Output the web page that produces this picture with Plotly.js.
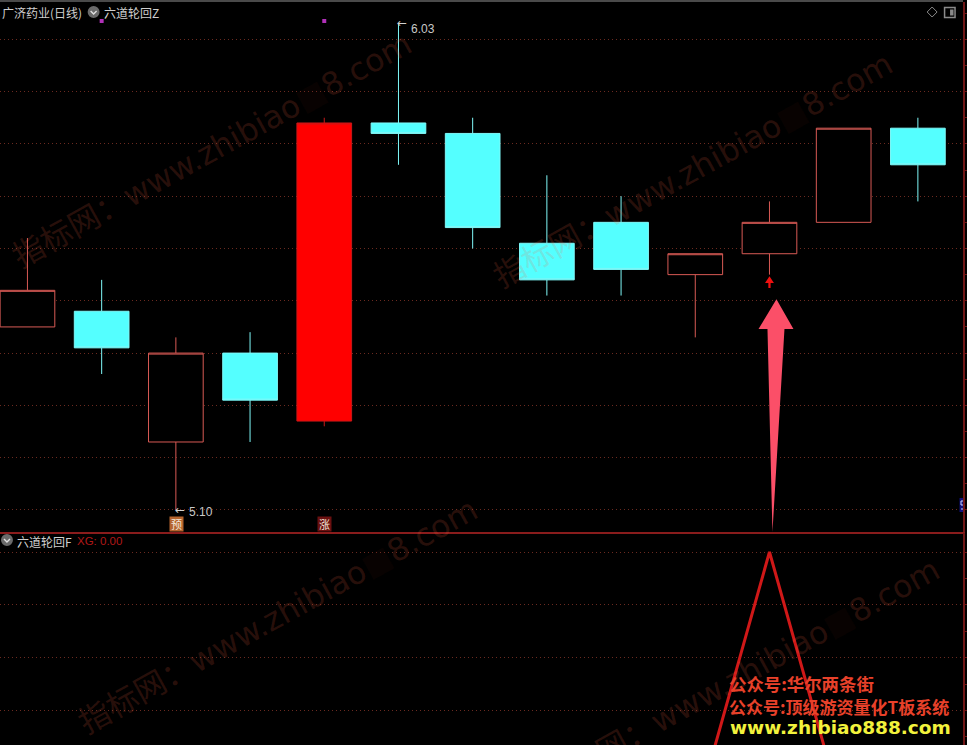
<!DOCTYPE html>
<html>
<head>
<meta charset="utf-8">
<script src="https://cdn.plot.ly/plotly-3.0.1.min.js"></script>
<style>html,body{margin:0;padding:0;background:#000;overflow:hidden}#chart{width:967px;height:745px}</style>
</head>
<body>
<div id="chart"></div>
<script>
// ---- candles (price) ----
const days   = [0,1,2,3,4,5,6,7,8,9,10,11,12];
const opens  = [5.45,5.48,5.23,5.40,5.27,5.84,5.82,5.61,5.65,5.55,5.59,5.65,5.83];
const highs  = [5.62,5.54,5.43,5.44,5.85,6.03,5.85,5.74,5.70,5.59,5.69,5.83,5.85];
const lows   = [5.45,5.36,5.10,5.23,5.26,5.76,5.60,5.51,5.51,5.43,5.55,5.65,5.69];
const closes = [5.52,5.41,5.40,5.31,5.84,5.82,5.64,5.54,5.56,5.59,5.65,5.83,5.76];
const solidDay = 4;
// ---- indicator panel ----
const xgValues = [0,0,0,0,0,0,0,0,0,0,100,0,0];
// ---- grid / ticks ----
const priceGrid  = [5.1,5.2,5.3,5.4,5.5,5.6,5.7,5.8,5.9,6.0];
const priceMinor = [5.15,5.25,5.35,5.45,5.55,5.65,5.75,5.85,5.95,6.05];
const xgGrid  = [40,60,80,100];
const xgMinor = [30,50,70,90];
// ---- markers ----
const dotDays   = [1,4];
const dotPrices = [6.035,6.035];
const bigArrowX = [10.094,10.323,10.202,10.04,9.973,9.852,10.094];
const bigArrowY = [5.503,5.446,5.446,5.058,5.446,5.446,5.503];
const smallArrowX = [10,10.06,10.015,10.015,9.985,9.985,9.94,10];
const smallArrowY = [5.547,5.534,5.534,5.5245,5.5245,5.534,5.534,5.547];
// ---- texts ----
const headerMain = '广济药业(日线)';
const headerZ = '六道轮回Z';
const headerF = '六道轮回F';
const headerXG = 'XG: 0.00';
const promoOne = '公众号:华尔两条街';
const promoTwo = '公众号:顶级游资量化T板系统';
const promoSite = 'www.zhibiao888.com';

const W = 967, H = 745;
const px = v => v / W, py = v => 1 - v / H;
const cjk = '"Noto Sans CJK SC", sans-serif';
const latin = '"Liberation Sans", sans-serif';
const dejavu = '"DejaVu Sans", "Noto Sans CJK SC", sans-serif';
const gridColor = '#6b2a20', edge = '#701616';

const others = days.filter(d => d !== solidDay);
const pick = (arr, list) => list.map(d => arr[d]);

const traces = [
  { type:'candlestick', x:others, open:pick(opens,others), high:pick(highs,others), low:pick(lows,others), close:pick(closes,others),
    increasing:{line:{color:'#d85a55',width:1}, fillcolor:'#000000'},
    decreasing:{line:{color:'#7ff8f8',width:1}, fillcolor:'#54ffff'},
    hoverinfo:'skip', showlegend:false },
  { type:'candlestick', x:[solidDay], open:pick(opens,[solidDay]), high:pick(highs,[solidDay]), low:pick(lows,[solidDay]), close:pick(closes,[solidDay]),
    increasing:{line:{color:'#c81818',width:1}, fillcolor:'#ff0000'},
    hoverinfo:'skip', showlegend:false },
  { type:'scatter', mode:'lines', x:bigArrowX, y:bigArrowY, fill:'toself', fillcolor:'#fb4f68', line:{width:0,color:'#fb4f68'}, hoverinfo:'skip', showlegend:false },
  { type:'scatter', mode:'lines', x:smallArrowX, y:smallArrowY, fill:'toself', fillcolor:'#f01010', line:{width:0,color:'#f01010'}, hoverinfo:'skip', showlegend:false },
  { type:'scatter', mode:'markers', x:dotDays, y:dotPrices, marker:{symbol:'square',size:4,color:'#b030b8'}, hoverinfo:'skip', showlegend:false },
  { type:'scatter', mode:'lines', x:days, y:xgValues, yaxis:'y2', line:{color:'#d01818',width:3}, hoverinfo:'skip', showlegend:false }
];

function label(text, x, y, size, color, family, anchor, extra) {
  return Object.assign({ text:text, xref:'paper', yref:'paper', x:px(x), y:py(y), xanchor:anchor||'left', yanchor:'middle',
    showarrow:false, font:{size:size,color:color,family:family||latin}, borderpad:0 }, extra||{});
}
const wmColor = 'rgba(255,100,66,0.17)';
const wmText = '指标网：www.zhibiao<span style="color:rgba(130,40,20,0.35)">■</span>8.com';
const watermark = (x,y) => label(wmText, x, y, 31.5, wmColor, dejavu, 'center', {textangle:-29});
const tag = (day, txt, bg) => ({ text:txt, xref:'x', yref:'y', x:day, y:5.073, showarrow:false, width:13, height:14, bgcolor:bg, borderpad:0,
    font:{size:11,color:'#f4e8d8',family:cjk}, xanchor:'center', yanchor:'middle' });

const annotations = [
  watermark(213,150), watermark(696,170), watermark(279,616), watermark(743,676),
  label(headerMain, 1, 12, 12, '#cfcfcf', cjk),
  label(headerZ, 103, 12, 12, '#cfcfcf', cjk),
  label(headerF, 16, 541, 12, '#cfcfcf', cjk),
  label(headerXG, 76, 541, 11.5, '#b01818', latin),
  tag(2.01,'预','#b5642e'),
  tag(solidDay,'涨','#6a1010'),
  label('←', 175, 510, 12, '#d0d0d0', dejavu),
  label('5.10', 189, 512, 12, '#c8c8c8', latin),
  label('←', 398, 23, 12, '#d0d0d0', dejavu),
  label('6.03', 412, 29, 12, '#c8c8c8', latin),
  label(promoOne, 731, 683, 17, '#e8412a', cjk, 'left', {font:{size:17.4,color:'#e8412a',family:cjk,weight:700}}),
  label(promoTwo, 731, 706, 17, '#e8412a', cjk, 'left', {font:{size:17,color:'#e8412a',family:cjk,weight:700}}),
  label(promoSite, 732, 727, 18.5, '#f2f23c', dejavu, 'left', {font:{size:18.5,color:'#f2f23c',family:'"DejaVu Sans", sans-serif',weight:700}})
];

const paperShape = o => Object.assign({xref:'paper',yref:'paper',layer:'above'}, o);
const rect = (x0,y0,x1,y1,fill,line) => paperShape({type:'rect',x0:px(x0),y0:py(y0),x1:px(x1),y1:py(y1),fillcolor:fill||'rgba(0,0,0,0)',line:line||{width:0}});
const circleIcon = (cx,cy) => paperShape({type:'circle',x0:px(cx-6),x1:px(cx+6),y0:py(cy-6),y1:py(cy+6),fillcolor:'#6a6a6a',line:{width:0}});
const chevron = (cx,cy) => paperShape({type:'path',path:`M ${px(cx-3)} ${py(cy-1)} L ${px(cx)} ${py(cy+2)} L ${px(cx+3)} ${py(cy-1)}`,line:{color:'#e0e0e0',width:1.4}});
const shapes = [
  rect(0,0,W,2,'#4a4a4a'),
  circleIcon(94,12), chevron(94,12),
  circleIcon(7,540), chevron(7,540),
  paperShape({type:'path',path:`M ${px(936)} ${py(7)} L ${px(941)} ${py(12)} L ${px(936)} ${py(17)} L ${px(931)} ${py(12)} Z`,line:{color:'#8a8a8a',width:1}}),
  paperShape({type:'rect',x0:px(948.5),x1:px(959),y0:py(7.5),y1:py(17.5),line:{color:'#8a8a8a',width:1.5},fillcolor:'rgba(0,0,0,0)'}),
  rect(954,9.5,957.5,15.5,'#8a8a8a'),
  rect(963.5,498,967,512,'#10107a'),
  paperShape({type:'path',path:`M ${px(967)} ${py(501)} L ${px(965)} ${py(501)} L ${px(965)} ${py(505)} L ${px(967)} ${py(505)} M ${px(965)} ${py(509)} L ${px(967)} ${py(509)}`,line:{color:'#c8d0ff',width:1}})
];

const layout = {
  width:W, height:H, paper_bgcolor:'#000', plot_bgcolor:'#000',
  margin:{l:0,r:4,t:0,b:0}, showlegend:false, dragmode:false,
  boxmode:'overlay', boxgap:0.263, boxgroupgap:0,
  xaxis:{range:[-0.37,12.608], rangeslider:{visible:false}, anchor:'y', showgrid:false, zeroline:false,
         showticklabels:false, ticks:'', showline:true, linecolor:'#8a1c1c', linewidth:2, fixedrange:true},
  yaxis:{domain:[(H-532)/H,(H-2)/H], range:[5.0579,6.0713], side:'right', tickmode:'array', tickvals:priceGrid,
         griddash:'1px,3px', gridcolor:gridColor, gridwidth:1, zeroline:false, showticklabels:false,
         ticks:'outside', ticklen:4, tickcolor:edge, showline:true, linecolor:edge, linewidth:1.5, fixedrange:true,
         minor:{tickmode:'array',tickvals:priceMinor,ticks:'outside',ticklen:4,tickcolor:edge,showgrid:false}},
  yaxis2:{domain:[0,(H-533)/H], range:[26.9,107.2], side:'right', anchor:'x', tickmode:'array', tickvals:xgGrid,
         griddash:'1px,3px', gridcolor:gridColor, gridwidth:1, zeroline:false, showticklabels:false,
         ticks:'outside', ticklen:4, tickcolor:edge, showline:true, linecolor:edge, linewidth:1.5, fixedrange:true,
         minor:{tickmode:'array',tickvals:xgMinor,ticks:'outside',ticklen:4,tickcolor:edge,showgrid:false}},
  annotations:annotations, shapes:shapes
};
Plotly.newPlot('chart', traces, layout, {displayModeBar:false, staticPlot:true});
</script>
</body>
</html>
